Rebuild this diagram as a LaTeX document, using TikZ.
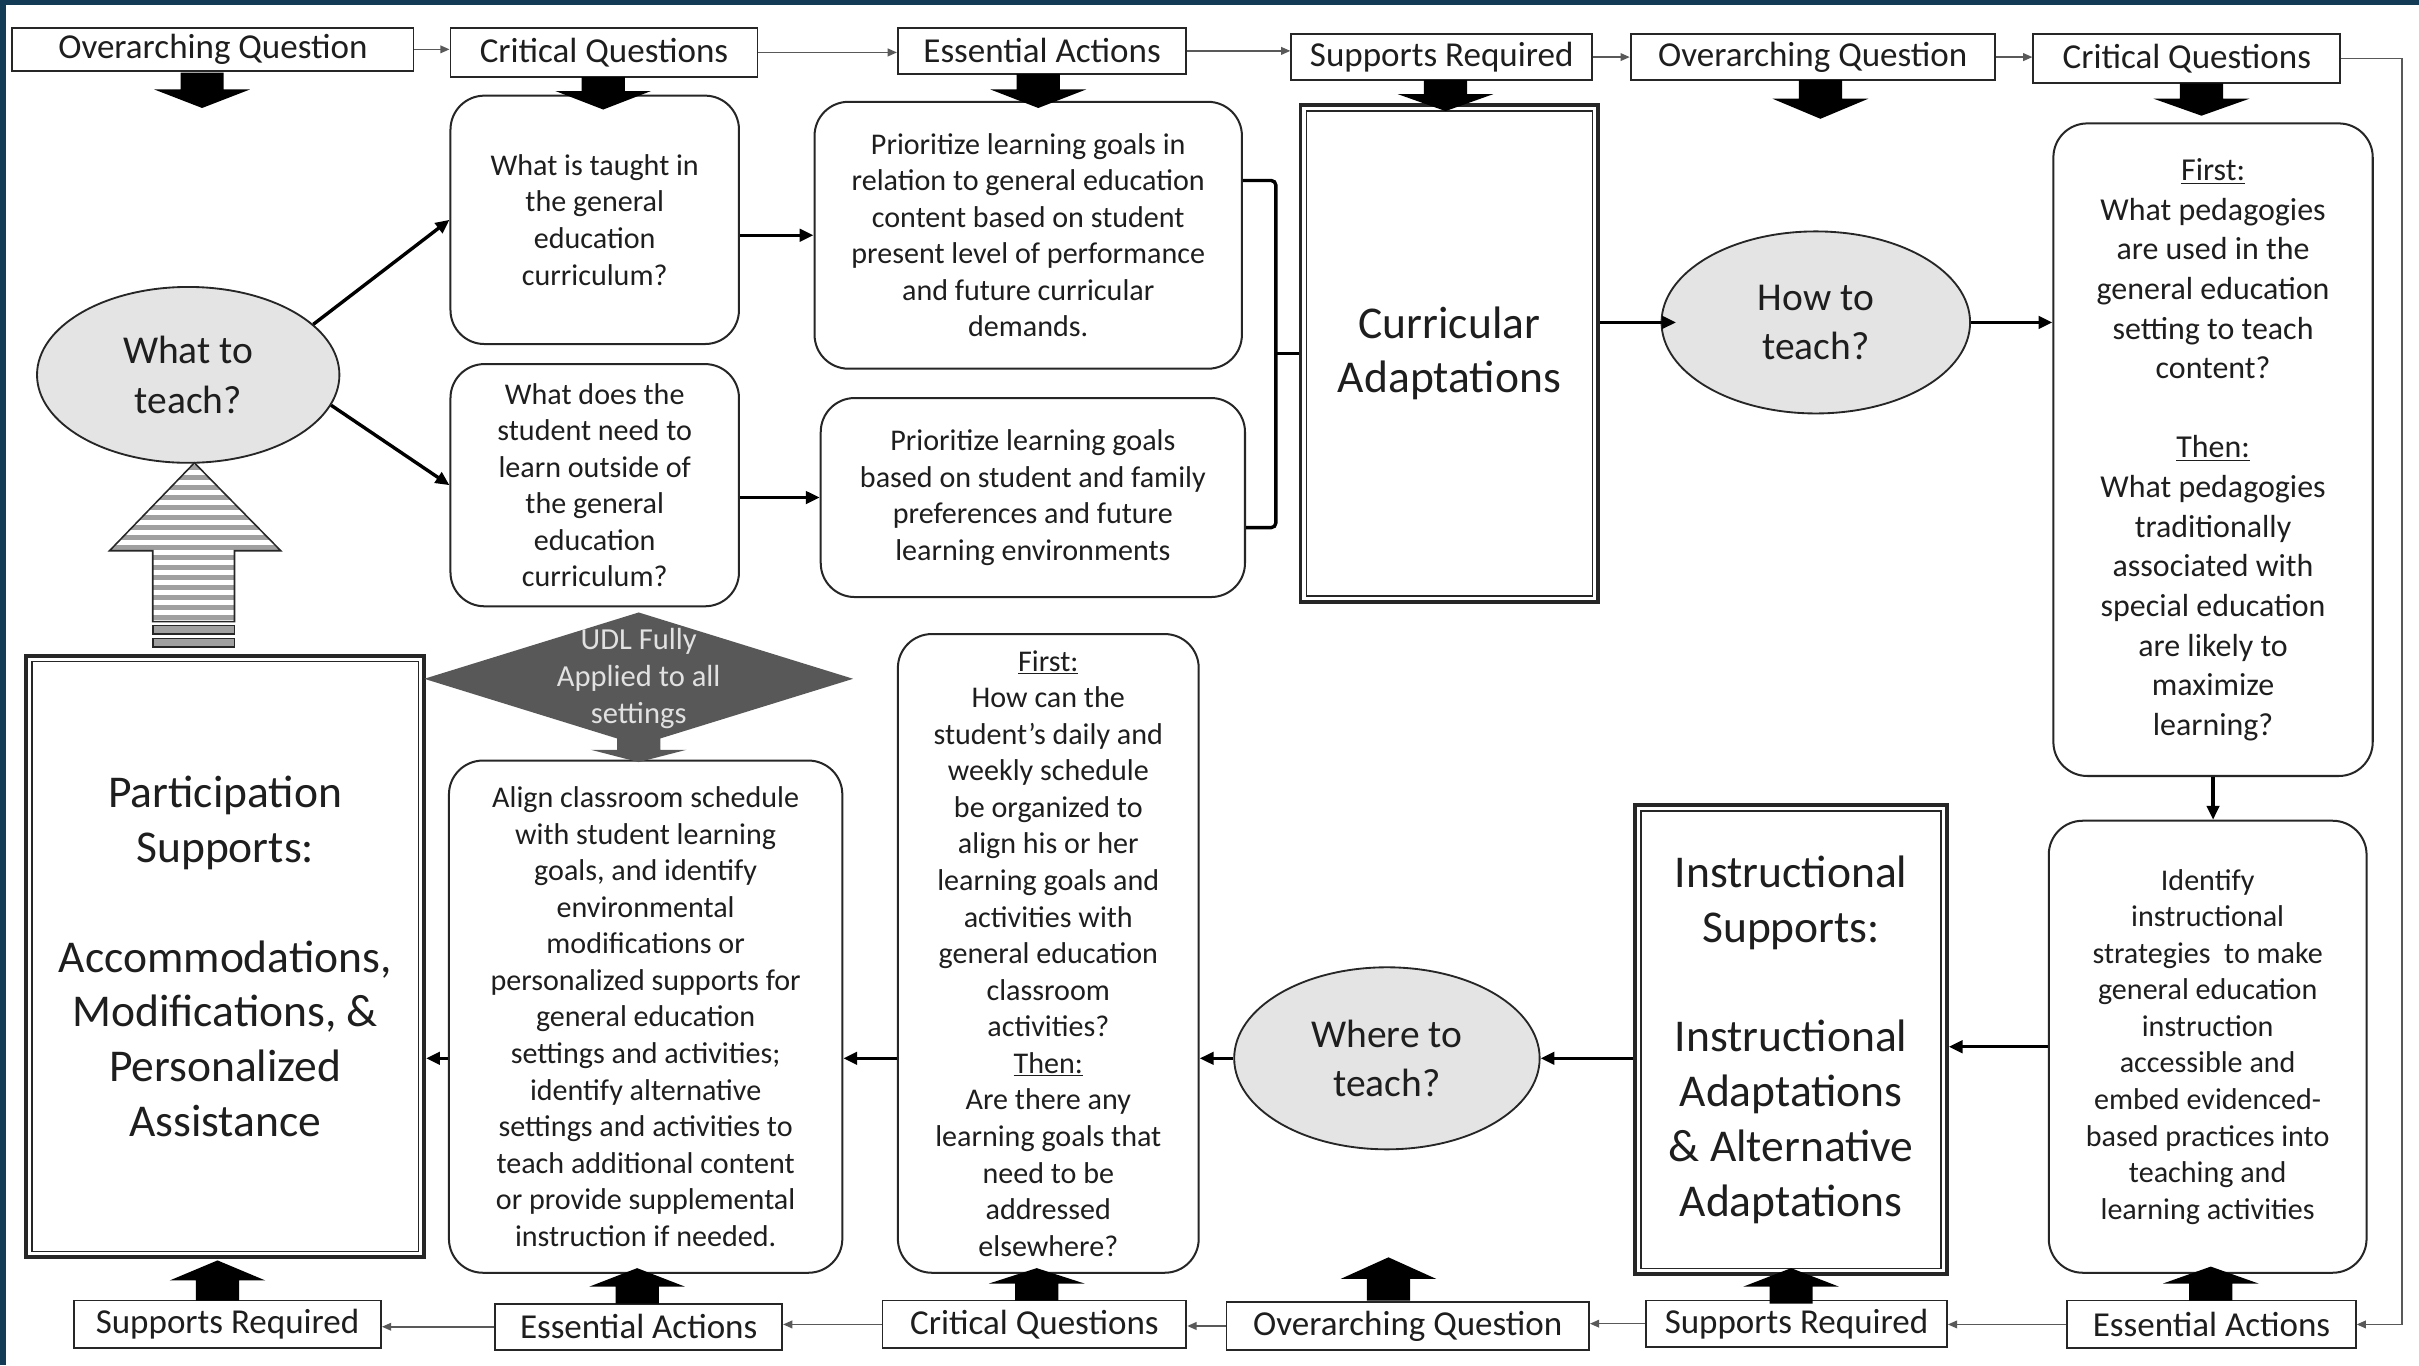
\documentclass[tikz,border=0pt]{standalone}
\usepackage{fontspec}
\setmainfont{Carlito}
\usetikzlibrary{shapes.geometric,arrows.meta,calc}
\definecolor{navy}{RGB}{19,59,85}
\definecolor{txt}{RGB}{30,30,30}
\definecolor{ellfill}{RGB}{228,228,228}
\definecolor{udlfill}{RGB}{88,88,88}
\definecolor{udltext}{RGB}{225,225,225}
\definecolor{stripe}{RGB}{160,160,160}
\newcommand\hdrfont{\fontsize{22.7}{27}\selectfont}
\newcommand\bodyfont{\fontsize{19.5}{23.7}\selectfont}
\newcommand\rfont{\fontsize{20.7}{25.7}\selectfont}
\newcommand\ellfont{\fontsize{25.6}{32}\selectfont}
\newcommand\bigfont{\fontsize{29.5}{35.5}\selectfont}
\newcommand\udlfont{\fontsize{19.8}{24}\selectfont}
% block arrow: x, ybase, yhead, ytip, colour
\newcommand\blk[5]{%
  \fill[#5] ({#1-14},#2) -- ({#1+14},#2) -- ({#1+14},#3) -- ({#1+31},#3) -- (#1,#4) -- ({#1-31},#3) -- ({#1-14},#3) -- cycle;}
\tikzset{
  hdr/.style={draw=black!85, line width=1.2, font=\hdrfont, text=txt, inner sep=0},
  rbox/.style={draw=black!85, line width=1.3, rounded corners=22, align=center, font=\bodyfont, text=txt, inner sep=0},
  ell/.style={ellipse, draw=black!85, line width=1.2, fill=ellfill, align=center, font=\ellfont, text=txt, inner sep=0},
  dbox/.style={draw=black!85, line width=2.4, align=center, font=\bigfont, text=txt, inner sep=0},
  conn/.style={line width=2.2, black, -{Triangle[length=9pt,width=8pt]}},
  hline/.style={line width=1.0, black!65, -{Triangle[length=6pt,width=5pt]}},
}
\begin{document}
\begin{tikzpicture}[x=1pt,y=-1pt]
\useasboundingbox (0,0) rectangle (1568,885);
\fill[white] (0,0) rectangle (1568,885);
\fill[navy] (0,0) rectangle (1568,3.3);
\fill[navy] (0,0) rectangle (4,885);

% ---------- header boxes, top row
\node[hdr, minimum width=260, minimum height=28] (oq1) at (138,32) {Overarching Question};
\node[hdr, minimum width=199, minimum height=32] (cq1) at (391.5,34) {Critical Questions};
\node[hdr, minimum width=187, minimum height=30] (ea1) at (675.5,33) {Essential Actions};
\node[hdr, minimum width=195, minimum height=30] (sr1) at (934.5,37) {Supports Required};
\node[hdr, minimum width=236, minimum height=30] (oq2) at (1175,37) {Overarching Question};
\node[hdr, minimum width=199, minimum height=32] (cq2) at (1417.5,38) {Critical Questions};

% ---------- header boxes, bottom row
\node[hdr, minimum width=199, minimum height=31] (sr3) at (147.5,858.5) {Supports Required};
\node[hdr, minimum width=186, minimum height=30] (ea3) at (414,860) {Essential Actions};
\node[hdr, minimum width=197, minimum height=31] (cq3) at (670.5,858.5) {Critical Questions};
\node[hdr, minimum width=235, minimum height=31] (oq3) at (912.5,859.5) {Overarching Question};
\node[hdr, minimum width=195, minimum height=30] (sr2) at (1164.5,858) {Supports Required};
\node[hdr, minimum width=187, minimum height=31] (ea2) at (1433.5,858.5) {Essential Actions};

% ---------- ellipses
\node[ell, minimum width=196, minimum height=114] (what) at (122,243) {What to\\teach?};
\node[ell, minimum width=200, minimum height=118] (how) at (1177,209) {How to\\teach?};
\node[ell, minimum width=198, minimum height=118] (where) at (899,686) {Where to\\teach?};

% ---------- rounded boxes
\node[rbox, minimum width=187, minimum height=161] (q1) at (385.5,142.5)
  {What is taught in\\the general\\education\\curriculum?};
\node[rbox, minimum width=187, minimum height=157] (q2) at (385.5,314.5)
  {What does the\\student need to\\learn outside of\\the general\\education\\curriculum?};
\node[rbox, minimum width=277, minimum height=173] (p1) at (666.5,152.5)
  {Prioritize learning goals in\\relation to general education\\content based on student\\present level of performance\\and future curricular\\demands.};
\node[rbox, minimum width=275, minimum height=129] (p2) at (669.5,322.5)
  {Prioritize learning goals\\based on student and family\\preferences and future\\learning environments};
\node[rbox, font=\rfont, minimum width=207, minimum height=423] (r1) at (1434.5,291.5)
  {\underline{First:}\\What pedagogies\\are used in the\\general education\\setting to teach\\content?\\[25.7pt]\underline{Then:}\\What pedagogies\\traditionally\\associated with\\special education\\are likely to\\maximize\\learning?};
\node[rbox, minimum width=206, minimum height=293] (r2) at (1431,678.5)
  {Identify\\instructional\\strategies\ \ to make\\general education\\instruction\\accessible and\\embed evidenced-\\based practices into\\teaching and\\learning activities};
\node[rbox, minimum width=195, minimum height=414] (s1) at (679.5,618)
  {\underline{First:}\\How can the\\student’s daily and\\weekly schedule\\be organized to\\align his or her\\learning goals and\\activities with\\general education\\classroom\\activities?\\\underline{Then:}\\Are there any\\learning goals that\\need to be\\addressed\\elsewhere?};
\node[rbox, minimum width=255, minimum height=332] (align) at (418.5,659)
  {Align classroom schedule\\with student learning\\goals, and identify\\environmental\\modifications or\\personalized supports for\\general education\\settings and activities;\\identify alternative\\settings and activities to\\teach additional content\\or provide supplemental\\instruction if needed.};

% ---------- double-bordered boxes
\node[dbox, minimum width=193, minimum height=322] (curr) at (939.5,229) {Curricular\\Adaptations};
\node[dbox, minimum width=202, minimum height=304] (instr) at (1161,674)
  {Instructional\\Supports:\\[35.5pt]Instructional\\Adaptations\\\& Alternative\\Adaptations};
\node[dbox, minimum width=258, minimum height=390] (part) at (146,620)
  {Participation\\Supports:\\[35.5pt]Accommodations,\\Modifications, \&\\Personalized\\Assistance};
\foreach \n in {curr,instr,part}
  \draw[black!85, line width=1.0] ([shift={(5,5)}]\n.north west) rectangle ([shift={(-5,-5)}]\n.south east);

% ---------- UDL diamond
\coordinate (udl) at (414,440);
\fill[udlfill] ([shift={(-139,0)}]udl) -- ([shift={(0,-43)}]udl) -- ([shift={(139,0)}]udl) -- ([shift={(0,43)}]udl) -- cycle;
\node[align=center, font=\udlfont, text=udltext, inner sep=0] (udltxt) at (udl) {UDL Fully\\Applied to all\\settings};
\blk{414}{478}{486}{494}{udlfill}

% ---------- striped up arrow
\begin{scope}
  \clip (126,300) -- (182,357) -- (152,357) -- (152,403) -- (99,403) -- (99,357) -- (71,357) -- cycle;
  \foreach \yy in {303,309.5,...,404} \draw[stripe, line width=3.2] (60,\yy) -- (200,\yy);
\end{scope}
\draw[black!85, line width=1.0] (126,300) -- (182,357) -- (152,357) -- (152,403) -- (99,403) -- (99,357) -- (71,357) -- cycle;
\draw[black!85, line width=1.0, fill=stripe] (99,405.5) rectangle (152,411);
\draw[black!85, line width=1.0, fill=stripe] (99,414) rectangle (152,419.5);

% ---------- block arrows from headers
\blk{131}{47}{58}{70}{black}
\blk{391}{50}{59}{71}{black}
\blk{673}{48}{58}{70}{black}
\blk{937}{52}{61}{72}{black}
\blk{1180}{52}{64}{77}{black}
\blk{1427}{54}{64}{75}{black}
\blk{141}{843}{830}{817}{black}
\blk{413}{845}{834}{822}{black}
\blk{672}{843}{832}{822}{black}
\blk{900}{843}{829}{815}{black}
\blk{1161}{845}{834}{822}{black}
\blk{1433}{843}{832}{821}{black}

% ---------- thin header connectors
\draw[hline] (oq1.east) -- (oq1.east -| cq1.west);
\draw[hline] (cq1.east) -- (cq1.east -| ea1.west);
\draw[hline] (ea1.east) -- (ea1.east -| sr1.west);
\draw[hline] (sr1.east) -- (sr1.east -| oq2.west);
\draw[hline] (oq2.east) -- (oq2.east -| cq2.west);
\coordinate (loopT) at (1557,38);
\draw[hline] (cq2.east) -- (cq2.east -| loopT) -- (loopT |- ea2.east) -- (ea2.east);
\draw[hline] (ea2.west) -- (ea2.west -| sr2.east);
\draw[hline] (sr2.west) -- (sr2.west -| oq3.east);
\draw[hline] (oq3.west) -- (oq3.west -| cq3.east);
\draw[hline] (cq3.west) -- (cq3.west -| ea3.east);
\draw[hline] (ea3.west) -- (ea3.west -| sr3.east);

% ---------- main connectors
\draw[conn] (what.22) -- (q1.west);
\draw[conn] (what.-12) -- (q2.west);
\draw[conn] (q1.east |- p1.west) -- (p1.west);
\draw[conn] (q2.east |- p2.west) -- (p2.west);
\coordinate (b1) at (827,117);
\coordinate (b2) at (827,342);
\coordinate (brk) at (827,229);
\draw[line width=2.2, rounded corners=3] (p1.east |- b1) -- (b1) -- (b2) -- (p2.east |- b2);
\draw[line width=2.2] (brk) -- (brk -| curr.west);
\draw[conn] (curr.east |- how.west) -- ([shift={(10,0)}]how.west);
\draw[conn] (how.east) -- (how.east -| r1.west);
\draw[conn] (r1.south) -- (r1.south |- r2.north);
\draw[conn] (r2.west) -- (r2.west -| instr.east);
\draw[conn] (where.east -| instr.west) -- (where.east);
\draw[conn] (where.west) -- (where.west -| s1.east);
\draw[conn] (s1.west |- where.west) -- (align.east |- where.west);
\draw[conn] (align.west |- where.west) -- (part.east |- where.west);
\end{tikzpicture}
\end{document}
